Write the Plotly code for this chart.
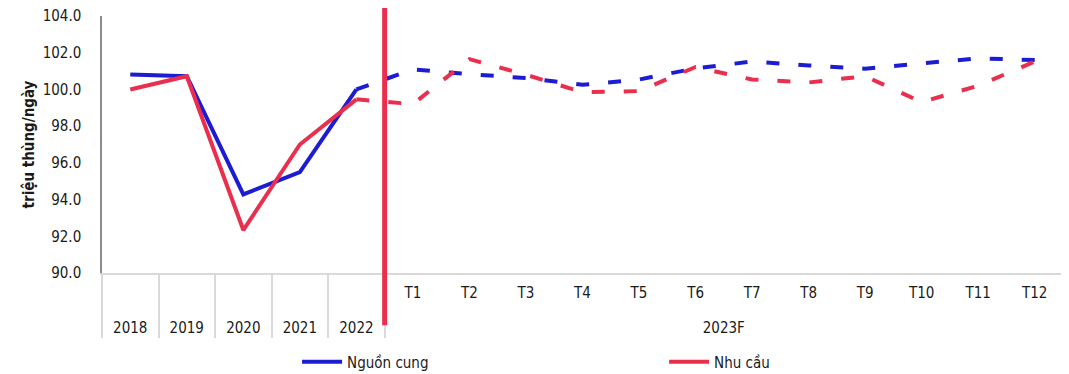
import plotly.graph_objects as go

years = ["2018", "2019", "2020", "2021", "2022"]
months = ["T1", "T2", "T3", "T4", "T5", "T6", "T7", "T8", "T9", "T10", "T11", "T12"]
forecast_group = "2023F"

supply_hist = [100.82, 100.72, 94.28, 95.5, 100.0]
demand_hist = [100.0, 100.72, 92.34, 97.0, 99.46]
supply_fc = [101.09, 100.83, 100.62, 100.25, 100.54, 101.15, 101.52, 101.31, 101.13, 101.42, 101.69, 101.6]
demand_fc = [99.2, 101.65, 100.8, 99.85, 99.91, 101.22, 100.54, 100.38, 100.72, 99.31, 100.2, 101.52]

BLUE = "#1C1CD2"
RED = "#EA2E4D"
FONT = "DejaVu Sans Condensed, DejaVu Sans"

outer = years + [forecast_group] * len(months)
# second (blank) line in inner labels gives the outer row the reference's spacing
inner = ["\u00a0<br>\u00a0"] * len(years) + [m + "<br>\u00a0" for m in months]

hist_x = [outer[:len(years)], inner[:len(years)]]
fc_x = [outer[len(years) - 1:], inner[len(years) - 1:]]

fig = go.Figure()
fig.add_trace(go.Scatter(x=hist_x, y=supply_hist, mode="lines", name="Nguồn cung",
                         line=dict(color=BLUE, width=4), legendgroup="s"))
fig.add_trace(go.Scatter(x=fc_x, y=[supply_hist[-1]] + supply_fc, mode="lines", showlegend=False,
                         line=dict(color=BLUE, width=4, dash="13px,19px"), legendgroup="s"))
fig.add_trace(go.Scatter(x=hist_x, y=demand_hist, mode="lines", name="Nhu cầu",
                         line=dict(color=RED, width=4), legendgroup="d"))
fig.add_trace(go.Scatter(x=fc_x, y=[demand_hist[-1]] + demand_fc, mode="lines", showlegend=False,
                         line=dict(color=RED, width=4, dash="13px,19px"), legendgroup="d"))

# separator between history and forecast
fig.add_shape(type="line", xref="x", yref="paper", x0=len(years) - 0.5, x1=len(years) - 0.5,
              y0=-0.203, y1=1.043, line=dict(color=RED, width=5), layer="above")

fig.update_layout(
    width=1061, height=366,
    margin=dict(l=94, r=6, t=8, b=101, autoexpand=False),
    paper_bgcolor="white", plot_bgcolor="white",
    font=dict(family=FONT, size=15, color="#1a1a1a"),
    showlegend=True,
    legend=dict(orientation="h", x=0.203, xanchor="left", y=0.033, yref="container", yanchor="middle",
                entrywidth=312, entrywidthmode="pixels", itemwidth=40,
                font=dict(size=15, family=FONT), bgcolor="rgba(0,0,0,0)"),
)
fig.update_yaxes(range=[90, 104], dtick=2, tickformat=".1f", showgrid=False, zeroline=False,
                 showline=True, linecolor="#8c8c8c", linewidth=1.5, ticks="", automargin=False,
                 ticklabelstandoff=16, ticklabeloverflow="allow",
                 title=dict(text="<b>triệu thùng/ngày</b>", font=dict(size=15, family=FONT), standoff=4))
fig.update_xaxes(type="multicategory", showgrid=False, showline=True, linecolor="#d9d9d9", linewidth=2,
                 ticks="", showdividers=True, dividercolor="#d9d9d9", dividerwidth=2, automargin=False,
                 ticklabelstandoff=5,
                 range=[-0.5, len(outer) - 0.5])

fig.write_html("out.html")
